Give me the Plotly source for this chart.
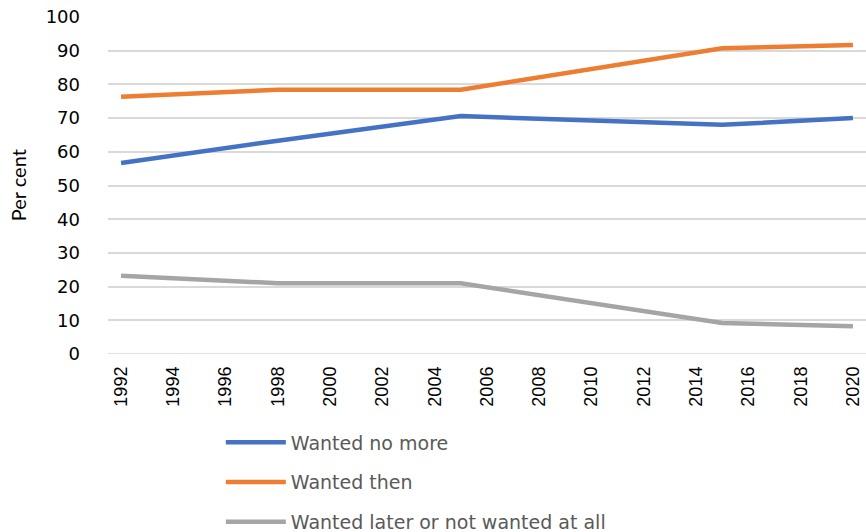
import plotly.graph_objects as go

years = [1992, 1998, 2005, 2015, 2020]
wanted_no_more = [56.7, 63.3, 70.6, 68.0, 70.0]
wanted_then = [76.3, 78.4, 78.4, 90.7, 91.7]
wanted_later = [23.2, 21.0, 21.0, 9.2, 8.2]

series = [
    ("Wanted no more", wanted_no_more, "#4472C4"),
    ("Wanted then", wanted_then, "#ED7D31"),
    ("Wanted later or not wanted at all", wanted_later, "#A5A5A5"),
]

fig = go.Figure()
for name, vals, color in series:
    fig.add_trace(go.Scatter(
        x=years, y=vals, name=name, mode="lines", legendgroup=name,
        line=dict(color=color, width=4.5),
    ))

fig.update_layout(
    width=866, height=532,
    margin=dict(l=108, r=0, t=17, b=178, autoexpand=False),
    plot_bgcolor="white", paper_bgcolor="white",
    showlegend=True,
    legend=dict(
        xref="container", yref="container",
        x=0.255, y=0.204, xanchor="left", yanchor="top",
        orientation="v", tracegroupgap=12,
        font=dict(family="DejaVu Sans", size=19, color="#595959"),
        itemwidth=60,
    ),
    xaxis=dict(
        range=[1991.5, 2020.5], tickmode="array",
        tickvals=list(range(1992, 2021, 2)),
        ticktext=[str(y) for y in range(1992, 2021, 2)],
        tickangle=-90, showgrid=False, zeroline=False, showline=False,
        tickfont=dict(family="Liberation Sans", size=18, color="#000000"),
        ticks="", ticklabelstandoff=8,
    ),
    yaxis=dict(
        range=[0, 100], tickmode="array", tickvals=list(range(0, 101, 10)),
        showgrid=True, gridcolor="#D9D9D9", gridwidth=1.5,
        zeroline=False, showline=False, ticks="",
        ticklabelstandoff=27,
        tickfont=dict(family="DejaVu Sans", size=18, color="#000000"),
    ),
    annotations=[dict(
        text="Per cent", xref="paper", yref="paper",
        x=-0.119, y=0.5, xanchor="center", yanchor="middle",
        textangle=-90, showarrow=False,
        font=dict(family="Lato", size=20, color="#000000"),
    )],
)
# baseline gridline at zero
fig.add_shape(type="line", xref="paper", yref="y", x0=0, x1=1, y0=0, y1=0,
              line=dict(color="#D9D9D9", width=1.5), layer="below")

fig.write_html("out.html")
